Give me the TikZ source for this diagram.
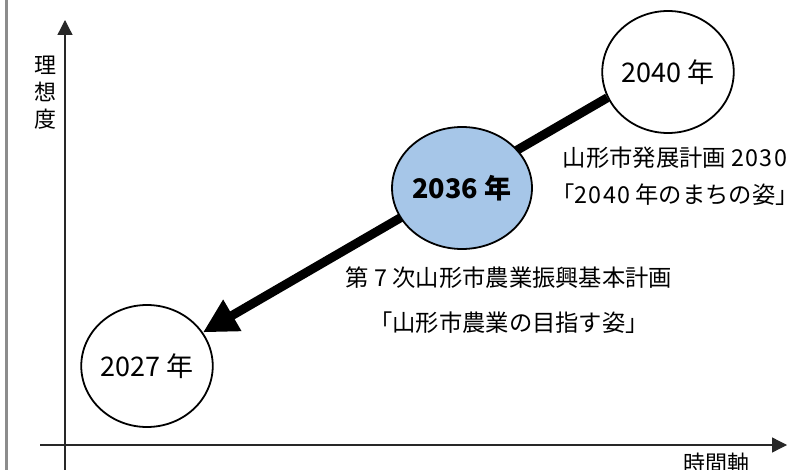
\documentclass[tikz,border=0pt]{standalone}
\usepackage{fontspec}
\setmainfont{Noto Sans CJK JP}
\usetikzlibrary{arrows.meta,shapes.geometric}
\definecolor{nowblue}{RGB}{166,198,232}
\definecolor{axisgray}{RGB}{40,40,40}
\definecolor{framegray}{RGB}{140,140,140}
\newcommand{\dg}[1]{{\addfontfeature{LetterSpace=6}#1}}
\begin{document}
\begin{tikzpicture}[x=1pt,y=-1pt,
  yearnode/.style={ellipse,draw=black,line width=1.8pt,inner sep=0pt,
    minimum width=130pt,minimum height=122pt,font=\fontsize{27}{30}\selectfont},
  lbl/.style={inner sep=0pt,font=\fontsize{23.3}{27}\selectfont},
  axis/.style={draw=axisgray,line width=1.3pt,-{Triangle[length=15pt,width=15pt]}}]
\useasboundingbox (0,0) rectangle (802,470);
\fill[white] (0,0) rectangle (802,470);
% left frame line
\draw[framegray,line width=2.5pt] (6.5,0) -- (6.5,470);
% axes
\coordinate (ybot) at (65,475);
\coordinate (ytop) at (65,20);
\coordinate (xleft) at (40,445);
\coordinate (xright) at (787,445);
\draw[axis] (ybot) -- (ytop);
\draw[axis] (xleft) -- (xright);
\node[lbl,align=center,font=\fontsize{22}{27}\selectfont] (ylab) at (45,93) {理\\想\\度};
\node[lbl,font=\fontsize{22}{27}\selectfont] (xlab) at (716,463) {時間軸};
% year circles
\node[yearnode] (c2040) at (668,72) {2040 年};
\node[yearnode] (c2027) at (147,366) {2027 年};
\draw[line width=9pt,-{Triangle[length=34pt,width=34pt]}] (c2040.203) -- (c2027.31);
\node[yearnode,fill=nowblue,font=\fontsize{27}{30}\selectfont\bfseries] (c2036) at (462,188) {2036 年};
% labels
\node[lbl,align=center,font=\fontsize{23.3}{37}\selectfont] (plan2030) at (675,176.5)
  {山形市発展計画 \dg{2030}\\「\dg{2040} 年のまちの姿」};
\node[lbl,align=center,font=\fontsize{23.3}{45}\selectfont] (plan7) at (509,300)
  {第 \dg{7} 次山形市農業振興基本計画\\「山形市農業の目指す姿」};
\end{tikzpicture}
\end{document}
